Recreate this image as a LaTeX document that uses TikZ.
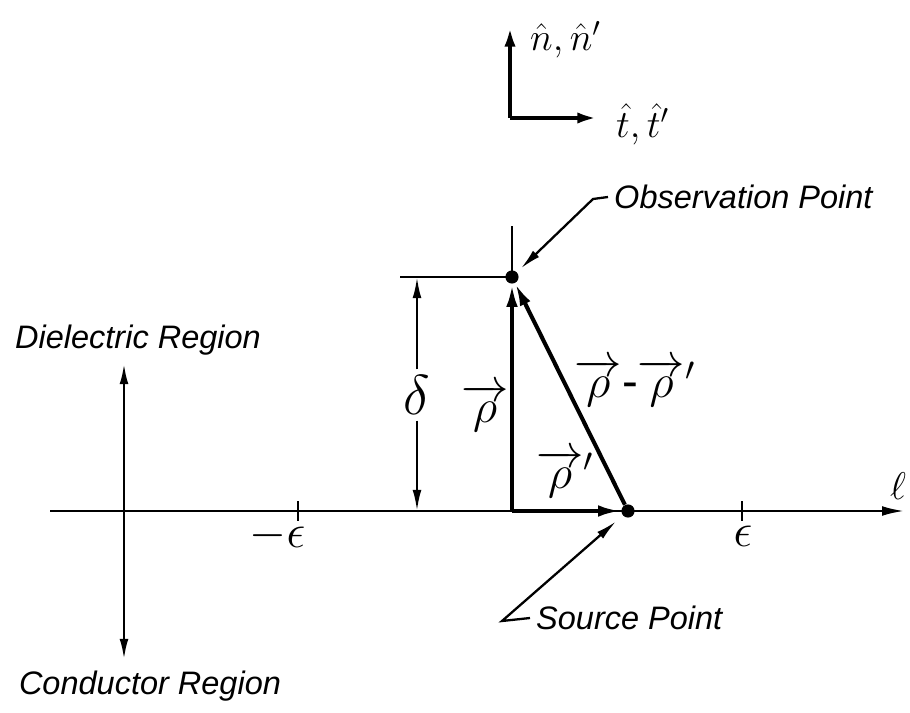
\RequirePackage{fix-cm}
\documentclass[tikz,border=0pt]{standalone}
\usepackage{amsmath}
\usepackage{fontspec}
\setmainfont{Liberation Sans}
\usetikzlibrary{arrows.meta, positioning, calc}

\begin{document}
\begin{tikzpicture}[
  x=0.02cm, y=-0.02cm,
  every node/.style={font=\fontsize{18.5}{22}\selectfont\itshape},
  sym/.style={font=\fontsize{27}{31}\selectfont},
  arr/.style={-{Latex[length=13pt, width=5.5pt]}, line width=1.6pt},
  vec/.style={-{Latex[length=13pt, width=6.5pt]}, line width=2.3pt},
  lead/.style={-{Latex[length=12pt, width=5pt]}, line width=1.3pt},
  frm/.style={-{Latex[length=14pt, width=6pt]}, line width=2.7pt},
  dot/.style={circle, fill, inner sep=0pt, minimum size=7.5pt},
]
  \useasboundingbox (0,0) rectangle (910,713);

  % unit vectors
  \coordinate (frameO) at (510,118);
  \coordinate (nTip) at (510,22);
  \coordinate (tTip) at (602,118);
  \draw[frm] (frameO) -- (nTip);
  \draw[frm] (frameO) -- (tTip);
  \node[anchor=west, font=\fontsize{22}{26}\selectfont] (nLab) at (524,40) {$\hat{n},\hat{n}'$};
  \node[anchor=west, font=\fontsize{22}{26}\selectfont] (tLab) at (610,124) {$\hat{t},\hat{t}'$};

  % l axis
  \coordinate (axL) at (50,511);
  \coordinate (axR) at (905,511);
  \draw[arr] (axL) -- (axR);
  \node[font=\fontsize{22}{26}\selectfont] (ell) at (898,486) {$\ell$};

  \foreach \x/\nm in {298/mEps, 742/pEps} {
    \draw[line width=1.6pt] (\x,501) -- (\x,521);
  }
  \node[sym] (mEps) at (296,536) {\llap{$-$}$\epsilon$};
  \node[sym] (pEps) at (743,536) {$\epsilon$};

  % points
  \node[dot] (obs) at (512,277) {};
  \node[dot] (src) at (628,511) {};
  \coordinate (orig) at (512,511);
  \coordinate (vTop) at (512,226);
  \draw[line width=1.4pt] (vTop) -- (obs.center);

  % vectors
  \draw[vec] (orig) -- (obs);
  \draw[vec] (orig) -- (src);
  \draw[vec] (src) -- (obs);
  \node[sym] (rho) at (485,408) {$\overrightarrow{\rho}$};
  \node[sym] (rhoP) at (565,474) {$\overrightarrow{\rho}'$};
  \node[sym] (rhoD) at (635,383) {$\overrightarrow{\rho}\mbox{-}\overrightarrow{\rho}'$};

  % height delta
  \coordinate (extL) at (400,277);
  \draw[line width=1.4pt] (extL) -- (obs.center);
  \coordinate (dimT) at (417,277);
  \coordinate (dimB) at (417,511);
  \node[sym, font=\fontsize{32}{36}\selectfont] (delta) at (417,395) {$\delta$};
  \draw[lead] (delta) -- (dimT);
  \draw[lead] (delta) -- (dimB);

  % labels with leaders
  \node[anchor=west] (obsLab) at (608,197) {Observation Point};
  \coordinate (obsKnee) at (593,199);
  \draw[lead, shorten >=3pt] (obsLab.west) -- (obsKnee) -- (obs);

  \node[anchor=west] (srcLab) at (530,618) {Source Point};
  \coordinate (srcKnee) at (502,621);
  \draw[lead, shorten >=5pt] (srcLab.west) -- (srcKnee) -- (src);

  % regions
  \coordinate (regO) at (124,511);
  \coordinate (regT) at (124,363);
  \coordinate (regB) at (124,660);
  \draw[lead, line width=1.6pt] (regO) -- (regT);
  \draw[lead, line width=1.6pt] (regO) -- (regB);
  \node (diel) at (138,340) {Dielectric Region};
  \node (cond) at (150,686) {Conductor Region};
\end{tikzpicture}
\end{document}
